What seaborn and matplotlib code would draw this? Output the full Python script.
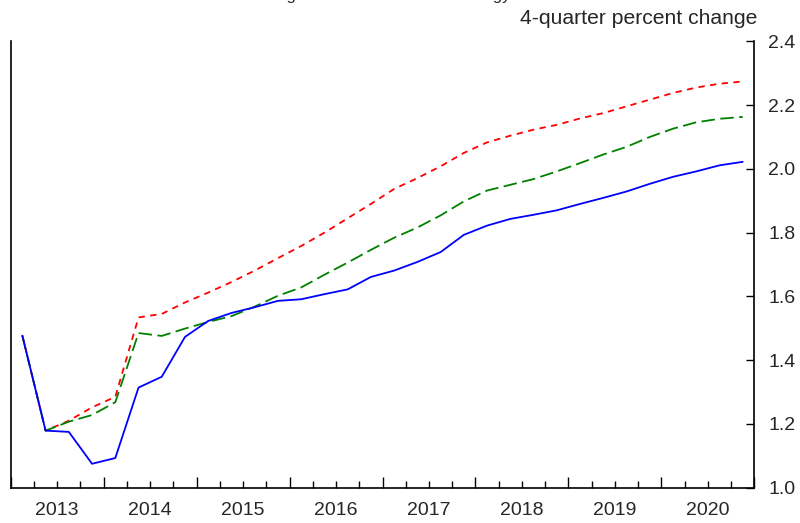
import numpy as np
import pandas as pd
import matplotlib.pyplot as plt
import matplotlib.ticker as mticker
import seaborn as sns

# quarterly data, 2013Q1 - 2020Q4, plotted at quarter midpoints
years = list(range(2013, 2021))
quarters = [y + (q - 0.5) / 4 for y in years for q in range(1, 5)]

baseline = [1.477, 1.179, 1.175, 1.075, 1.093, 1.314, 1.348, 1.473, 1.523, 1.548, 1.566, 1.586,
            1.591, 1.607, 1.622, 1.661, 1.681, 1.708, 1.739, 1.793, 1.822, 1.843, 1.856, 1.870,
            1.890, 1.909, 1.929, 1.953, 1.975, 1.992, 2.011, 2.022]
alt_green = [1.477, 1.179, 1.207, 1.228, 1.268, 1.485, 1.476, 1.499, 1.520, 1.538, 1.568, 1.602,
             1.628, 1.668, 1.706, 1.746, 1.784, 1.816, 1.854, 1.898, 1.932, 1.950, 1.968, 1.992,
             2.018, 2.045, 2.069, 2.100, 2.126, 2.146, 2.157, 2.163]
alt_red = [1.477, 1.179, 1.210, 1.252, 1.285, 1.534, 1.545, 1.581, 1.612, 1.645, 1.681, 1.720,
           1.758, 1.800, 1.845, 1.890, 1.937, 1.971, 2.008, 2.050, 2.083, 2.104, 2.123, 2.138,
           2.158, 2.175, 2.196, 2.217, 2.238, 2.255, 2.267, 2.274]

yticks = [1.0, 1.2, 1.4, 1.6, 1.8, 2.0, 2.2, 2.4]

df = pd.concat([
    pd.DataFrame({'date': quarters, 'value': alt_red, 'series': 'red'}),
    pd.DataFrame({'date': quarters, 'value': alt_green, 'series': 'green'}),
    pd.DataFrame({'date': quarters, 'value': baseline, 'series': 'blue'}),
])

sns.set_theme(style='white')
plt.rcParams['font.family'] = ['Liberation Sans', 'DejaVu Sans']

fig = plt.figure(figsize=(8, 5.23), dpi=100)
ax = fig.add_axes([0.0134, 0.0675, 0.9295, 0.8535])

sns.lineplot(data=df, x='date', y='value', hue='series', style='series',
             palette={'red': '#ff0000', 'green': '#008000', 'blue': '#0000ff'},
             dashes={'red': (3.5, 3), 'green': (7.5, 3), 'blue': ''},
             linewidth=1.3, legend=False, ax=ax)

ax.set_xlim(2013, 2021)
ax.set_ylim(1.0, 2.4)
ax.set_xlabel('')
ax.set_ylabel('')

# spines: left, right, bottom; no top
for side in ['left', 'right', 'bottom']:
    ax.spines[side].set_visible(True)
    ax.spines[side].set_color('black')
    ax.spines[side].set_linewidth(1.2)
ax.spines['top'].set_visible(False)

# x axis: year boundaries as major ticks, quarters as minor, year labels at mid-year
ax.xaxis.set_major_locator(mticker.FixedLocator(list(range(2013, 2022))))
ax.xaxis.set_major_formatter(mticker.NullFormatter())
minor_pos = [y + q / 4 for y in years for q in (1, 2, 3)]
minor_lab = [str(y) if q == 2 else '' for y in years for q in (1, 2, 3)]
ax.xaxis.set_minor_locator(mticker.FixedLocator(minor_pos))
ax.xaxis.set_minor_formatter(mticker.FixedFormatter(minor_lab))
ax.tick_params(axis='x', which='major', direction='in', length=8, width=1, color='black',
               bottom=True)
ax.tick_params(axis='x', which='minor', direction='in', length=5, width=1, color='black',
               bottom=True, labelsize=14, pad=10)

# y axis on the right
ax.yaxis.tick_right()
ax.set_yticks(yticks)
ax.set_yticklabels([f'{v:.1f}' for v in yticks])
ax.tick_params(axis='y', which='major', direction='in', length=6, width=1, color='black',
               right=True, left=False, labelsize=14, pad=10)

fig.text(0.947, 0.965, '4-quarter percent change', ha='right', va='center', fontsize=15.2)
# title sits above the top edge, only its descenders show (as in the reference)
fig.text(0.471, 1.0, 'Average Inflation under the Strategy', ha='center', va='baseline',
         fontsize=12)

fig.savefig('out.png', dpi=100)
